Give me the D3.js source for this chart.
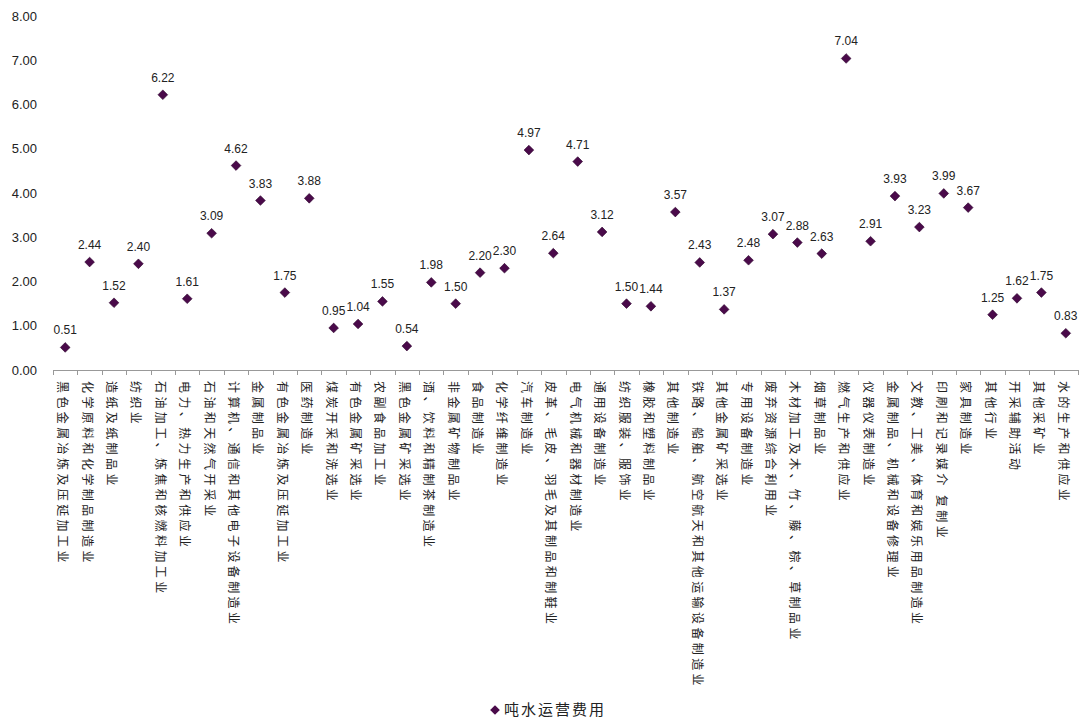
<!DOCTYPE html>
<html><head><meta charset="utf-8">
<script src="https://cdn.jsdelivr.net/npm/d3@7"></script>
<style>body{margin:0;background:#fff}</style>
</head><body>
<svg id="chart" width="1083" height="724"></svg>
<script>
const categories = ["黑色金属冶炼及压延加工业","化学原料和化学制品制造业","造纸及纸制品业","纺织业","石油加工、炼焦和核燃料加工业","电力、热力生产和供应业","石油和天然气开采业","计算机、通信和其他电子设备制造业","金属制品业","有色金属冶炼及压延加工业","医药制造业","煤炭开采和洗选业","有色金属矿采选业","农副食品加工业","黑色金属矿采选业","酒、饮料和精制茶制造业","非金属矿物制品业","食品制造业","化学纤维制造业","汽车制造业","皮革、毛皮、羽毛及其制品和制鞋业","电气机械和器材制造业","通用设备制造业","纺织服装、服饰业","橡胶和塑料制品业","其他制造业","铁路、船舶、航空航天和其他运输设备制造业","其他金属矿采选业","专用设备制造业","废弃资源综合利用业","木材加工及木、竹、藤、棕、草制品业","烟草制品业","燃气生产和供应业","仪器仪表制造业","金属制品、机械和设备修理业","文教、工美、体育和娱乐用品制造业","印刷和记录媒介 复制业","家具制造业","其他行业","开采辅助活动","其他采矿业","水的生产和供应业"];
const values = [0.51,2.44,1.52,2.40,6.22,1.61,3.09,4.62,3.83,1.75,3.88,0.95,1.04,1.55,0.54,1.98,1.50,2.20,2.30,4.97,2.64,4.71,3.12,1.50,1.44,3.57,2.43,1.37,2.48,3.07,2.88,2.63,7.04,2.91,3.93,3.23,3.99,3.67,1.25,1.62,1.75,0.83];
const yTicks = [0,1,2,3,4,5,6,7,8];
const seriesName = "吨水运营费用";

const svg = d3.select("#chart");
const font = "'Liberation Sans', Arial, sans-serif";
const cjk = "'Noto Sans CJK SC', sans-serif";
const x = d3.scaleBand().domain(categories).range([53, 1078]);
const y = d3.scaleLinear().domain([0, 8]).range([370, 16]);
const color = "#4a0a4a";

// y axis labels
svg.append("g").selectAll("text").data(yTicks).join("text")
  .attr("x", 37).attr("y", d => y(d)).attr("dy", "0.35em")
  .attr("text-anchor", "end").attr("font-family", font).attr("font-size", 13)
  .attr("fill", "#222").text(d => d.toFixed(2));

// x axis
svg.append("line").attr("x1", 53).attr("x2", 1078).attr("y1", 370.5).attr("y2", 370.5)
  .attr("stroke", "#999").attr("stroke-width", 1);
const bounds = d3.range(categories.length + 1).map(i => 53 + i * x.step());
svg.append("g").selectAll("line").data(bounds).join("line")
  .attr("x1", d => Math.round(d) + 0.5).attr("x2", d => Math.round(d) + 0.5)
  .attr("y1", 370).attr("y2", 375).attr("stroke", "#999");

// category labels
svg.append("g").selectAll("text").data(categories).join("text")
  .attr("transform", d => `translate(${x(d) + x.bandwidth() / 2 - 7},381) rotate(90)`)
  .attr("font-family", cjk).attr("font-size", 12).attr("letter-spacing", "3.4px")
  .attr("fill", "#222").text(d => d);

// markers
const diamond = d3.symbol().type(d3.symbolDiamond2).size(60);
svg.append("g").selectAll("path").data(values).join("path")
  .attr("transform", (d, i) => `translate(${x(categories[i]) + x.bandwidth() / 2},${y(d)})`)
  .attr("d", diamond).attr("fill", color).attr("stroke", "#2a002a").attr("stroke-width", 0.6);

// data labels
svg.append("g").selectAll("text").data(values).join("text")
  .attr("x", (d, i) => x(categories[i]) + x.bandwidth() / 2)
  .attr("y", d => y(d) - 13)
  .attr("text-anchor", "middle").attr("font-family", font).attr("font-size", 12)
  .attr("fill", "#222").text(d => d.toFixed(2));

// legend
svg.append("path").attr("transform", "translate(495,710)")
  .attr("d", diamond).attr("fill", color);
svg.append("text").attr("x", 504).attr("y", 710).attr("dy", "0.36em")
  .attr("font-family", cjk).attr("font-size", 15).attr("letter-spacing", "2px")
  .attr("fill", "#222").text(seriesName);
</script>
</body></html>
